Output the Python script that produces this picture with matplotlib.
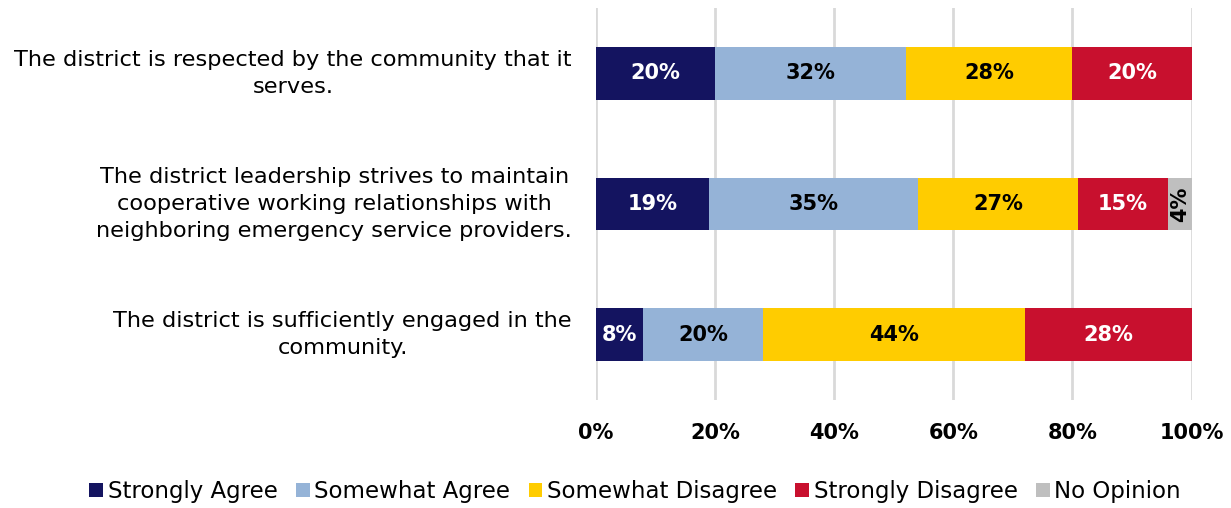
import numpy as np
import matplotlib.pyplot as plt

questions = [
    "The district is respected by the community that it\nserves.",
    "The district leadership strives to maintain\ncooperative working relationships with\nneighboring emergency service providers.",
    "The district is sufficiently engaged in the\ncommunity.",
]
responses = ["Strongly Agree", "Somewhat Agree", "Somewhat Disagree",
             "Strongly Disagree", "No Opinion"]
strongly_agree = [20, 19, 8]
somewhat_agree = [32, 35, 20]
somewhat_disagree = [28, 27, 44]
strongly_disagree = [20, 15, 28]
no_opinion = [0, 4, 0]
xticks = [0, 20, 40, 60, 80, 100]

colors = ["#141460", "#95B3D7", "#FFCC00", "#C8102E", "#BFBFBF"]
text_colors = ["white", "black", "black", "white", "black"]

plt.rcParams['font.family'] = ['DejaVu Sans']

fig = plt.figure(figsize=(12.31, 5.08), dpi=100)
ax = fig.add_axes([0.484, 0.213, 0.484, 0.771])

series = [strongly_agree, somewhat_agree, somewhat_disagree,
          strongly_disagree, no_opinion]
y = np.arange(len(questions))
left = np.zeros(len(questions))
for vals, name, col, tc in zip(series, responses, colors, text_colors):
    vals = np.array(vals, dtype=float)
    bars = ax.barh(y, vals, left=left, height=0.4, color=col, label=name, zorder=3)
    for b, v in zip(bars, vals):
        if v <= 0:
            continue
        cx = b.get_x() + b.get_width() / 2
        cy = b.get_y() + b.get_height() / 2
        rot = 90 if v < 5 else 0
        ax.text(cx, cy, f"{v:.0f}%", ha='center', va='center', rotation=rot,
                color=tc, fontsize=15, fontweight='bold', zorder=4)
    left += vals

ax.set_xlim(0, 100)
ax.set_ylim(2.5, -0.5)
ax.set_xticks(xticks)
ax.set_xticklabels([f"{t}%" for t in xticks], fontsize=15, fontweight='bold')
ax.set_yticks([])
for i, q in enumerate(questions):
    ax.text(-4, i, q, ha='right', va='center', multialignment='center',
            fontsize=16.2, linespacing=1.45)
ax.tick_params(axis='x', length=0, pad=17)
ax.grid(axis='x', color='#D9D9D9', linewidth=2, zorder=0)
for s in ax.spines.values():
    s.set_visible(False)

fig.legend(loc='center', bbox_to_anchor=(0.516, 0.032), ncol=5, frameon=False,
           fontsize=16.5, handlelength=0.6, handleheight=0.6, handletextpad=0.2,
           columnspacing=0.8)

fig.savefig("out.png", dpi=100)
